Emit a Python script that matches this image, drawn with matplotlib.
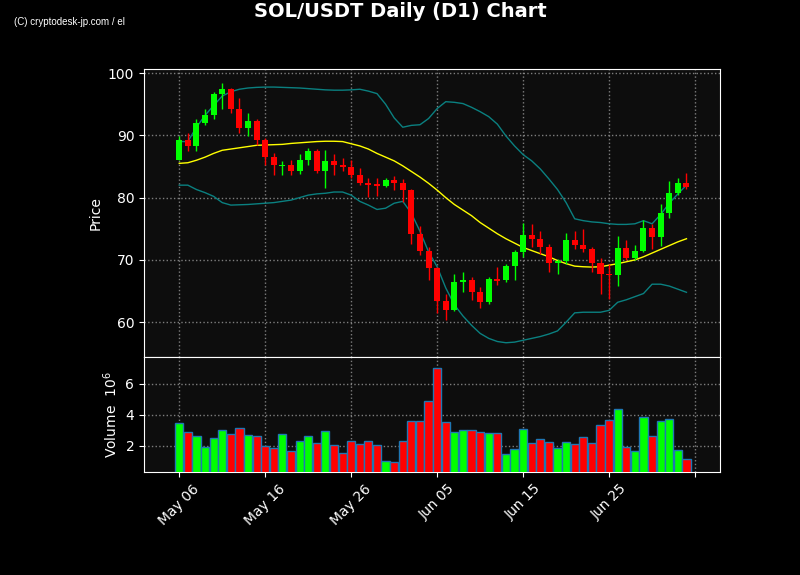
import numpy as np
import pandas as pd
import matplotlib
matplotlib.use('Agg')
import matplotlib.pyplot as plt

dates = pd.date_range('2024-05-06', periods=60, freq='D')

opens = [86.1, 89.2, 88.3, 92.0, 93.2, 96.6, 97.4, 94.2, 91.2, 92.3,
         89.2, 86.5, 85.0, 85.3, 84.3, 86.1, 87.5, 84.2, 85.8, 85.3,
         84.9, 83.6, 82.4, 82.2, 81.8, 82.8, 82.4, 81.2, 74.2, 71.4,
         68.7, 63.4, 62.0, 66.4, 66.7, 64.9, 63.2, 66.9, 66.7, 69.0,
         71.2, 74.0, 73.4, 72.0, 69.5, 69.9, 73.2, 72.4, 71.7, 69.5,
         67.8, 67.5, 71.9, 70.3, 71.4, 75.1, 73.6, 77.5, 80.7, 82.3]
highs = [89.9, 90.4, 92.7, 94.2, 97.0, 98.4, 97.6, 96.0, 93.6, 92.7,
         89.5, 87.2, 85.8, 86.1, 87.0, 88.0, 87.85, 87.6, 87.0, 86.3,
         86.1, 84.7, 83.2, 83.2, 83.2, 83.4, 83.0, 81.4, 75.5, 72.0,
         68.9, 64.6, 67.8, 68.1, 67.3, 65.7, 67.3, 68.8, 69.4, 71.55,
         75.9, 75.7, 74.6, 72.6, 70.2, 74.3, 74.6, 74.9, 72.1, 70.3,
         69.4, 73.9, 73.15, 72.35, 76.4, 75.7, 78.9, 82.65, 83.2, 83.95]
lows = [86.0, 87.5, 87.5, 91.7, 92.7, 94.3, 93.6, 90.3, 89.9, 88.5,
        85.3, 83.6, 83.6, 83.7, 83.85, 85.3, 83.9, 81.5, 83.7, 84.2,
        83.2, 82.1, 80.1, 80.3, 81.7, 81.3, 79.3, 72.6, 70.75, 66.75,
        61.4, 60.3, 61.8, 64.9, 63.5, 62.2, 63.0, 65.9, 66.4, 66.85,
        70.4, 72.1, 70.9, 68.1, 67.8, 69.4, 71.8, 71.3, 68.1, 64.6,
        63.8, 65.8, 69.95, 69.95, 71.2, 71.8, 72.2, 76.8, 80.4, 81.4]
closes = [89.2, 88.3, 92.0, 93.2, 96.6, 97.4, 94.2, 91.2, 92.3, 89.2,
          86.5, 85.2, 85.3, 84.3, 86.1, 87.5, 84.2, 85.8, 85.2, 84.9,
          83.6, 82.3, 82.1, 81.9, 82.8, 82.4, 81.2, 74.2, 71.4, 68.7,
          63.4, 62.0, 66.4, 66.7, 64.9, 63.2, 66.9, 66.6, 69.0, 71.2,
          74.0, 73.4, 72.0, 69.5, 69.9, 73.2, 72.4, 71.7, 69.5, 67.8,
          67.5, 71.9, 70.3, 71.4, 75.1, 73.6, 77.5, 80.7, 82.3, 81.7]
# volume in units of 10^6
volumes = [3.48, 2.90, 2.65, 1.94, 2.52, 3.03, 2.77, 3.16, 2.71, 2.65,
           1.95, 1.87, 2.77, 1.68, 2.32, 2.65, 2.19, 2.97, 2.06, 1.55,
           2.32, 2.13, 2.32, 2.06, 1.03, 0.97, 2.32, 3.61, 3.61, 4.90,
           7.03, 3.55, 2.90, 3.03, 3.03, 2.90, 2.84, 2.84, 1.48, 1.81,
           3.10, 2.19, 2.45, 2.26, 1.87, 2.26, 2.13, 2.58, 2.19, 3.35,
           3.68, 4.39, 1.94, 1.68, 3.87, 2.65, 3.61, 3.74, 1.74, 1.16]

# 20-day moving average and bollinger bands
ma_mid = [85.5, 85.6, 86.0, 86.5, 87.1, 87.6, 87.8, 88.0, 88.2, 88.4,
          88.45, 88.5, 88.55, 88.7, 88.8, 88.9, 89.0, 89.05, 89.05, 89.0,
          88.65, 88.3, 87.8, 87.1, 86.5, 85.9, 85.1, 84.2, 83.3, 82.3,
          81.2, 80.0, 78.9, 78.0, 77.1, 76.0, 75.1, 74.2, 73.4, 72.7,
          72.0, 71.5, 71.0, 70.5, 69.9, 69.4, 69.0, 68.9, 68.85, 68.9,
          69.15, 69.4, 69.7, 70.0, 70.5, 71.1, 71.7, 72.3, 72.9, 73.4]
bb_upper = [89.0, 89.0, 91.3, 93.2, 94.8, 96.3, 97.0, 97.4, 97.6, 97.7,
            97.75, 97.75, 97.7, 97.65, 97.6, 97.5, 97.4, 97.3, 97.25, 97.25,
            97.3, 97.4, 97.1, 96.7, 95.0, 92.8, 91.3, 91.6, 91.7, 92.7,
            94.3, 95.4, 95.3, 95.1, 94.5, 93.8, 93.0, 91.8, 89.9, 88.3,
            86.9, 85.9, 84.6, 83.0, 81.3, 79.2, 76.6, 76.3, 76.1, 76.0,
            75.8, 75.7, 75.7, 75.8, 76.3, 75.8, 77.3, 79.1, 80.6, 82.0]
bb_lower = [82.0, 82.0, 81.3, 80.8, 80.2, 79.2, 78.8, 78.85, 78.9, 79.0,
            79.1, 79.2, 79.4, 79.6, 80.0, 80.4, 80.6, 80.7, 80.9, 80.9,
            80.4, 79.4, 78.8, 78.1, 78.3, 79.1, 79.4, 77.5, 74.6, 71.3,
            68.9, 65.5, 62.8, 61.0, 59.5, 58.2, 57.4, 56.9, 56.7, 56.8,
            57.1, 57.4, 57.7, 58.1, 58.6, 60.0, 61.5, 61.6, 61.6, 61.6,
            61.9, 63.2, 63.6, 64.1, 64.6, 66.1, 66.1, 65.8, 65.3, 64.8]

opens = np.array(opens); highs = np.array(highs)
lows = np.array(lows); closes = np.array(closes)
volumes = np.array(volumes)
x = np.arange(len(dates))
up = closes >= opens
colors = np.where(up, '#00ff00', '#ff0000')

bg = '#0d0d0d'
fig = plt.figure(figsize=(8, 5.75), dpi=100, facecolor='black')
ax = fig.add_axes([0.18, 0.379, 0.72, 0.501], facecolor=bg)
axv = fig.add_axes([0.18, 0.179, 0.72, 0.2], facecolor=bg, sharex=ax)

# candles
ax.vlines(x, lows, highs, colors=colors, linewidth=1, zorder=3)
ax.bar(x, np.abs(closes - opens), bottom=np.minimum(opens, closes),
       width=0.7, color=colors, zorder=4)

ax.plot(x, ma_mid, color='#ffff00', linewidth=1, zorder=2)
ax.plot(x, bb_upper, color='#0a8080', linewidth=1, zorder=2)
ax.plot(x, bb_lower, color='#0a8080', linewidth=1, zorder=2)

axv.bar(x, volumes, width=0.95, color=colors, edgecolor='#1f77b4',
        linewidth=1, zorder=3)

# ticks every 10 days, label only inside the data range
tick_pos = np.arange(0, 70, 10)
tick_lab = []
for t in tick_pos:
    if t < len(dates):
        tick_lab.append(dates[t].strftime('%b %d'))
    else:
        tick_lab.append('')

ax.set_xlim(-4.1, 62.9)
ax.set_ylim(54.4, 100.65)
axv.set_ylim(0.3 * volumes.min(), 1.1 * volumes.max())

axv.set_xticks(tick_pos)
axv.set_xticklabels(tick_lab, rotation=45, ha='center')
plt.setp(ax.get_xticklabels(), visible=False)
ax.tick_params(axis='x', length=0)

ax.set_yticks([60, 70, 80, 90, 100])
axv.set_yticks([2, 4, 6])

for a in (ax, axv):
    a.grid(True, color='#9a9a9a', linestyle=':', linewidth=1, alpha=0.8)
    a.set_axisbelow(True)
    a.tick_params(colors='white', labelsize=10)
    for s in a.spines.values():
        s.set_color('white')

ax.set_ylabel('Price', color='white', fontsize=10)
axv.set_ylabel('Volume  $10^{6}$', color='white', fontsize=10)

fig.suptitle('SOL/USDT Daily (D1) Chart', color='white', fontsize=14,
             fontweight='bold', y=0.997)
fig.text(0.018, 0.956, '(C) cryptodesk-jp.com / el', color='white',
         fontsize=7, family='Liberation Sans')

fig.savefig('out.png', dpi=100, facecolor='black')
